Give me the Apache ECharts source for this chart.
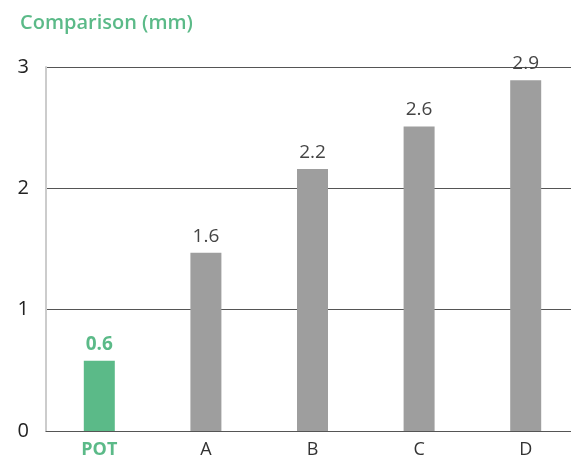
<!DOCTYPE html>
<html><head><meta charset="utf-8">
<script src="https://cdn.jsdelivr.net/npm/echarts@6/dist/echarts.min.js"></script>
<style>html,body{margin:0;padding:0;background:#fff}#c{width:571px;height:463px}</style>
</head><body><div id="c"></div>
<script>
var categories = ['POT', 'A', 'B', 'C', 'D'];
var values = [0.58, 1.47, 2.16, 2.51, 2.89];
var valueLabels = ['0.6', '1.6', '2.2', '2.6', '2.9'];
var yTicks = [0, 1, 2, 3];
var green = '#5bba88', gray = '#9e9e9e';
var font = 'Open Sans';
var chart = echarts.init(document.getElementById('c'));
chart.setOption({
  animation: false,
  title: { text: 'Comparison (mm)', left: 15, top: 8,
    textStyle: { color: green, fontSize: 20, fontWeight: 600, fontFamily: font } },
  grid: { left: 46, width: 533, top: 67, bottom: 32, outerBoundsMode: 'none', containLabel: false },
  xAxis: { type: 'category', data: categories,
    axisLine: { show: true, lineStyle: { color: '#555', width: 1 } },
    axisTick: { show: false },
    axisLabel: { margin: 10, fontSize: 18, fontFamily: font, color: '#333',
      formatter: function (v) { return v === 'POT' ? '{p|' + v + '}' : v; },
      rich: { p: { color: green, fontWeight: 'bold', fontSize: 18, fontFamily: font } } } },
  yAxis: { type: 'value', min: yTicks[0], max: yTicks[yTicks.length - 1], interval: 1,
    axisLine: { show: true, lineStyle: { color: '#ccc', width: 2 } },
    axisTick: { show: false },
    splitLine: { lineStyle: { color: '#555', width: 1 } },
    axisLabel: { margin: 17, fontSize: 20, fontFamily: font, color: '#222' } },
  series: [{
    type: 'bar', barWidth: 31,
    data: values.map(function (v, i) {
      return { value: v, itemStyle: { color: i === 0 ? green : gray },
        label: i === 0 ? { color: green, fontWeight: 'bold' } : {} };
    }),
    label: { show: true, position: 'top', distance: 7, fontSize: 19, fontFamily: font, color: '#444',
      formatter: function (p) { return valueLabels[p.dataIndex]; } }
  }]
});
</script></body></html>
